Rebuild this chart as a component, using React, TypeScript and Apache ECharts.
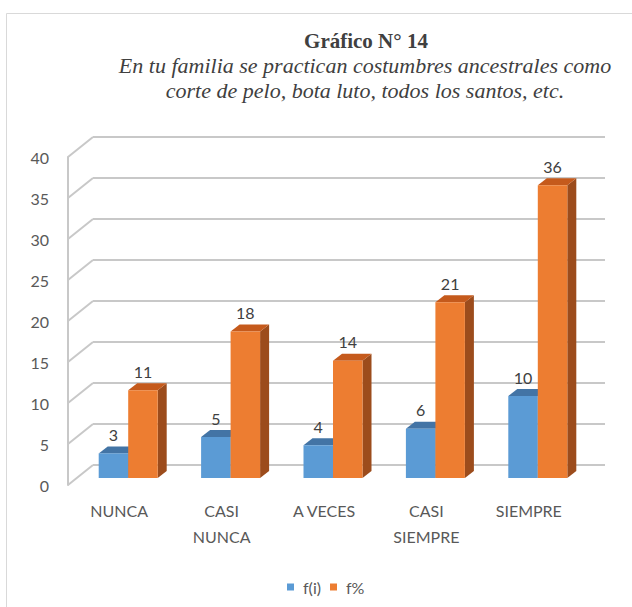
import React, { useEffect, useRef } from "react";
import * as echarts from "echarts";

const categories = ["NUNCA", "CASI\nNUNCA", "A VECES", "CASI\nSIEMPRE", "SIEMPRE"];
const fiValues = [3, 5, 4, 6, 10];
const fPctValues = [10.71, 17.86, 14.29, 21.43, 35.71];
const yTicks = [0, 5, 10, 15, 20, 25, 30, 35, 40];
const seriesNames = ["f(i)", "f%"];

const FONT = "Lato, 'Liberation Sans', sans-serif";
const GRID_COLOR = "#c8c8c8";
const WALL_DX = 25;
const WALL_DY = -20;
const BAR_DX = 9;
const BAR_DY = -7;
const BAR_W = 29.5;

const palettes = [
  { front: "#5b9bd5", top: "#4374a5", side: "#3f6f9c" },
  { front: "#ed7d31", top: "#c55a1c", side: "#9c4c1c" },
];

function makeBarRender(s: number) {
  return (params: any, api: any) => {
    const cat = api.value(0);
    const val = api.value(1);
    const top = api.coord([cat, val]);
    const base = api.coord([cat, 0]);
    const x0 = top[0] - BAR_W + s * BAR_W + BAR_DX;
    const yt = top[1] + BAR_DY;
    const yb = base[1] + BAR_DY;
    const p = palettes[s];
    return {
      type: "group",
      children: [
        {
          type: "polygon",
          shape: {
            points: [
              [x0 + BAR_W, yt],
              [x0 + BAR_W + BAR_DX, yt + BAR_DY],
              [x0 + BAR_W + BAR_DX, yb + BAR_DY],
              [x0 + BAR_W, yb],
            ],
          },
          style: { fill: p.side },
        },
        {
          type: "polygon",
          shape: {
            points: [
              [x0, yt],
              [x0 + BAR_W, yt],
              [x0 + BAR_W + BAR_DX, yt + BAR_DY],
              [x0 + BAR_DX, yt + BAR_DY],
            ],
          },
          style: { fill: p.top },
        },
        {
          type: "rect",
          shape: { x: x0, y: yt, width: BAR_W, height: yb - yt },
          style: { fill: p.front },
        },
        {
          type: "text",
          x: x0 + BAR_W / 2,
          y: yt - 19,
          style: {
            text: String(Math.round(val)),
            fill: "#404040",
            font: `16px ${FONT}`,
            align: "center",
            verticalAlign: "middle",
          },
        },
      ],
    };
  };
}

function wallRender(params: any, api: any) {
  const cs = params.coordSys;
  const y = api.coord([0, api.value(1)])[1];
  const xf = cs.x;
  const xr = cs.x + cs.width;
  const lineStyle = { stroke: GRID_COLOR, lineWidth: 2 };
  return {
    type: "group",
    children: [
      {
        type: "line",
        shape: { x1: xf, y1: y, x2: xf + WALL_DX, y2: y + WALL_DY },
        style: lineStyle,
      },
      {
        type: "line",
        shape: { x1: xf + WALL_DX, y1: y + WALL_DY, x2: xr + WALL_DX, y2: y + WALL_DY },
        style: lineStyle,
      },
    ],
  };
}

export default function App() {
  const ref = useRef<HTMLDivElement>(null);
  useEffect(() => {
    if (!ref.current) return;
    const chart = echarts.init(ref.current, null, { renderer: "svg" });
    chart.setOption({
      animation: false,
      backgroundColor: "#ffffff",
      graphic: [
        {
          type: "rect",
          shape: { x: 6.5, y: 13.5, width: 700, height: 700 },
          style: { fill: "none", stroke: "#d9d9d9", lineWidth: 1 },
          silent: true,
          z: -10,
        },
        {
          type: "text",
          x: 366,
          y: 41,
          style: {
            text: "Gráfico N° 14",
            fill: "#404040",
            font: "bold 21px 'Liberation Serif', serif",
            align: "center",
            verticalAlign: "middle",
          },
        },
        {
          type: "text",
          x: 365,
          y: 65,
          style: {
            text: "En tu familia se practican costumbres ancestrales como",
            fill: "#404040",
            font: "italic 22px 'Liberation Serif', serif",
            align: "center",
            verticalAlign: "middle",
          },
        },
        {
          type: "text",
          x: 365,
          y: 90,
          style: {
            text: "corte de pelo, bota luto, todos los santos, etc.",
            fill: "#404040",
            font: "italic 22px 'Liberation Serif', serif",
            align: "center",
            verticalAlign: "middle",
          },
        },
      ],
      legend: {
        data: seriesNames,
        left: 282,
        top: 574,
        icon: "rect",
        itemWidth: 7,
        itemHeight: 7,
        itemGap: 9,
        textStyle: { color: "#595959", fontSize: 16, fontFamily: FONT, padding: [0, 0, 0, 4] },
      },
      grid: { left: 68, right: 52, top: 157, bottom: 122 },
      xAxis: {
        type: "category",
        data: categories,
        axisLine: { show: false },
        axisTick: { show: false },
        axisLabel: {
          color: "#595959",
          fontSize: 16,
          fontFamily: FONT,
          lineHeight: 26,
          margin: 12,
          interval: 0,
        },
      },
      yAxis: {
        type: "value",
        min: 0,
        max: 40,
        interval: 5,
        axisLine: { show: true, lineStyle: { color: GRID_COLOR, width: 2 } },
        axisTick: { show: false },
        splitLine: { show: false },
        axisLabel: { color: "#595959", fontSize: 16, fontFamily: FONT, margin: 19 },
      },
      series: [
        {
          type: "custom",
          name: "walls",
          renderItem: wallRender,
          data: yTicks.map((v) => [0, v]),
          encode: { x: 0, y: 1 },
          clip: false,
          silent: true,
          z: 1,
        },
        {
          type: "custom",
          name: seriesNames[0],
          renderItem: makeBarRender(0),
          data: fiValues.map((v, i) => [i, v]),
          encode: { x: 0, y: 1 },
          itemStyle: { color: palettes[0].front },
          clip: false,
          z: 2,
        },
        {
          type: "custom",
          name: seriesNames[1],
          renderItem: makeBarRender(1),
          data: fPctValues.map((v, i) => [i, v]),
          encode: { x: 0, y: 1 },
          itemStyle: { color: palettes[1].front },
          clip: false,
          z: 3,
        },
      ],
    });
    return () => chart.dispose();
  }, []);
  return (
    <div
      ref={ref}
      style={{ position: "absolute", left: 0, top: 0, width: 632, height: 607 }}
    />
  );
}
